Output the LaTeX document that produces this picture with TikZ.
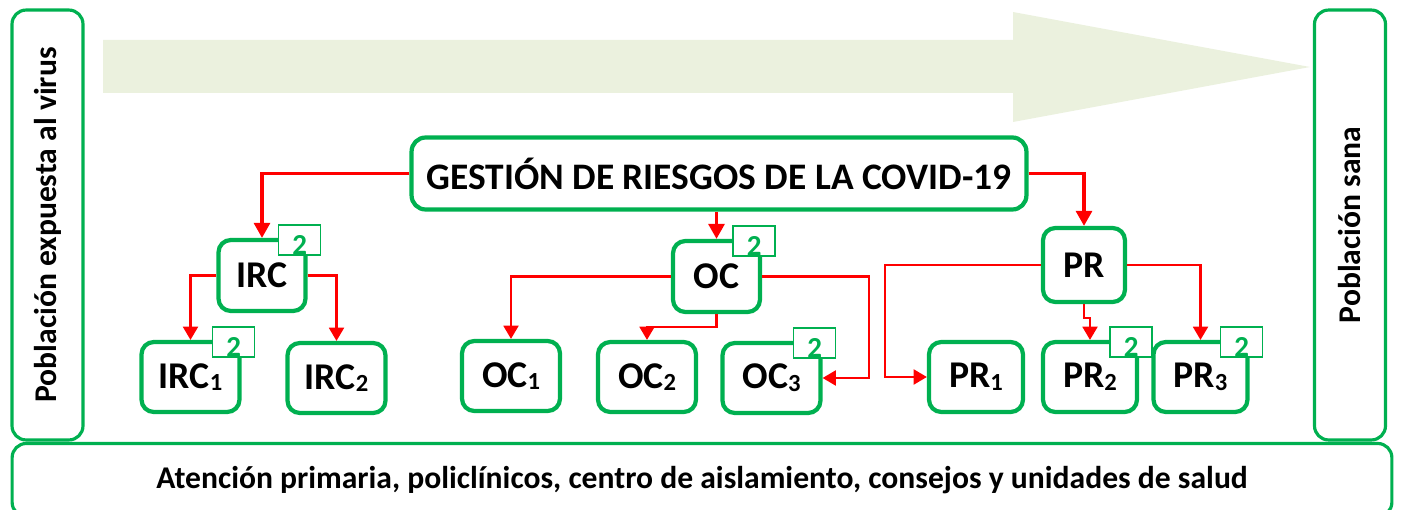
\documentclass[tikz,border=0pt]{standalone}
\usepackage{fontspec}
\setmainfont{Carlito}
\usepackage{xcolor}
\usepackage{tikz}
\usetikzlibrary{positioning,calc,arrows.meta}

\definecolor{boxgreen}{HTML}{00B050}
\definecolor{flowgreen}{HTML}{EBF1DE}
\newcommand{\lowidx}[1]{{\fontsize{14}{14}\selectfont\raisebox{-1.5pt}{#1}}}

\begin{document}
\begin{tikzpicture}[
				x=0.02cm, y=-0.02cm,
				sidebox/.style={rectangle, rounded corners=8pt, draw=boxgreen, line width=1.8pt, minimum width=1.42cm, minimum height=8.6cm, font=\bfseries\fontsize{18}{21}\selectfont},
				titlebox/.style={rectangle, rounded corners=8pt, draw=boxgreen, line width=2.4pt, minimum width=12.3cm, minimum height=1.44cm, font=\bfseries\fontsize{21.3}{25}\selectfont},
				parentbox/.style={rectangle, rounded corners=7pt, draw=boxgreen, fill=white, line width=2.4pt, minimum width=1.74cm, minimum height=1.42cm, font=\bfseries\fontsize{21.5}{25}\selectfont},
				childbox/.style={rectangle, rounded corners=7pt, draw=boxgreen, fill=white, line width=2.4pt, minimum width=1.96cm, minimum height=1.4cm, font=\bfseries\fontsize{21.5}{25}\selectfont},
				badge/.style={rectangle, draw=boxgreen, fill=white, line width=1pt, minimum width=0.84cm, minimum height=0.6cm, inner sep=0pt, text=boxgreen, font=\bfseries\fontsize{16.5}{16.5}\selectfont},
				arr/.style={draw=red, line width=1.2pt, -{Triangle[length=7.5pt,width=8.5pt]}},
				bigarr/.style={draw=red, line width=1.9pt, -{Triangle[length=8.5pt,width=9pt]}},
				]
				\useasboundingbox (0,0) rectangle (1401,510);
				
				%Flow arrow
				\fill[flowgreen] (103,40) -- (1013,40) -- (1013,12) -- (1310,67) -- (1013,122) -- (1013,93) -- (103,93) -- cycle;
				
				%Nodes
				\node[sidebox](exposed) at (47.5,225){};
				\node[rotate=90, font=\bfseries\fontsize{18}{21}\selectfont] (exposedtext) at (exposed.center){Población expuesta al virus};
				\node[sidebox](healthy) at (1350,225){};
				\node[rotate=90, font=\bfseries\fontsize{18}{21}\selectfont] (healthytext) at (healthy.center){Población sana};
				\node[sidebox, minimum width=27.6cm, minimum height=1.46cm, rounded corners=8pt](care) at (702,480){Atención primaria, policlínicos, centro de aislamiento, consejos y unidades de salud};
				
				\node[titlebox](title) at (719,173.5){GESTIÓN DE RIESGOS DE LA COVID-19};
				
				\node[parentbox](irc) at (262,275.5){IRC};
				\node[childbox](irc1) at (190.5,377){IRC\lowidx{1}};
				\node[childbox](irc2) at (336.5,378){IRC\lowidx{2}};
				
				\node[parentbox](oc) at (716.5,276.5){OC};
				\node[childbox](oc1) at (511,376){OC\lowidx{1}};
				\node[childbox](oc2) at (647,377){OC\lowidx{2}};
				\node[childbox](oc3) at (771.5,378){OC\lowidx{3}};
				
				\node[parentbox, minimum width=1.64cm, minimum height=1.48cm](pr) at (1084,265){PR};
				\node[childbox, minimum width=1.88cm](pr1) at (976,377){PR\lowidx{1}};
				\node[childbox, minimum width=1.88cm](pr2) at (1090,377){PR\lowidx{2}};
				\node[childbox, minimum width=1.88cm](pr3) at (1200.5,377){PR\lowidx{3}};
				
				%Badges
				\foreach \n in {irc,irc1,oc,oc3,pr2,pr3}
					\node[badge](badge-\n) at ($(\n.north east)+(-8,2)$){\smash{\raisebox{-8.5pt}{2}}};
				
				%Lines
				\draw[bigarr] (title.west) -| (irc.north);
				\draw[bigarr] (title.south -| oc.north) -- (oc.north);
				\draw[bigarr] (title.east) -| (pr.north);
				
				\draw[arr] (irc.west) -| (irc1.north);
				\draw[arr] (irc.east) -| (irc2.north);
				
				\draw[arr] (oc.west) -| (oc1.north);
				\draw[arr] (oc.south) -- ++(0,13) -| (oc2.north);
				\draw[arr] (oc.east) -- ++(107,0) |- (oc3.east);
				
				\draw[arr] (pr.west) -- ++(-156,0) |- (pr1.west);
				\draw[arr] (pr.south) -- ++(0,14) -| (pr2.north);
				\draw[arr] (pr.east) -| (pr3.north);
				
\end{tikzpicture}
\end{document}
